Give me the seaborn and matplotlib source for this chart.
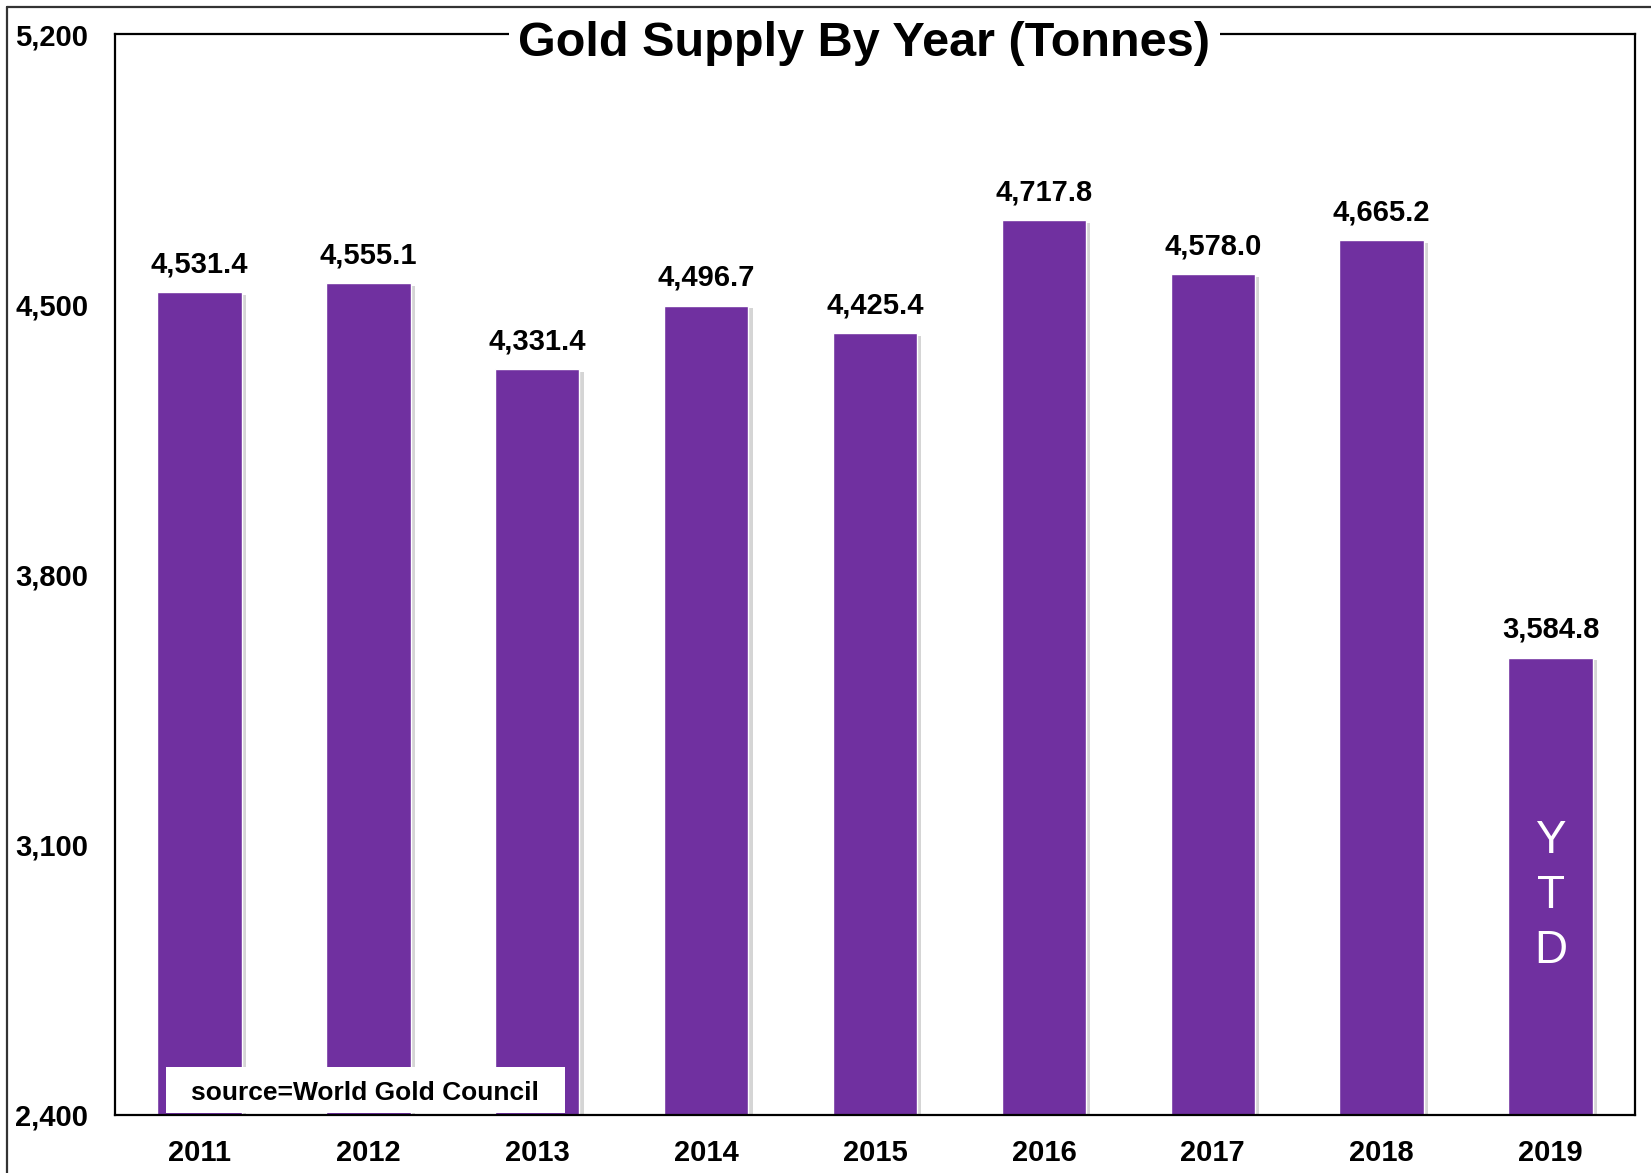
import matplotlib
matplotlib.use("Agg")
import matplotlib.pyplot as plt
import matplotlib.patheffects as pe
import matplotlib.transforms as mtransforms
from matplotlib.lines import Line2D
from matplotlib.patches import Rectangle
import seaborn as sns
import pandas as pd

# Gold supply by year (tonnes), source: World Gold Council
years = ['2011', '2012', '2013', '2014', '2015', '2016', '2017', '2018', '2019']
supply = [4531.4, 4555.1, 4331.4, 4496.7, 4425.4, 4717.8, 4578.0, 4665.2, 3584.8]
yticks = [2400, 3100, 3800, 4500, 5200]

df = pd.DataFrame({'Year': years, 'Supply': supply})

sns.set_style("white")
plt.rcParams['font.family'] = ['Liberation Sans', 'DejaVu Sans']
plt.rcParams['text.color'] = 'black'
plt.rcParams['xtick.color'] = 'black'
plt.rcParams['ytick.color'] = 'black'

purple = '#7030A0'

fig = plt.figure(figsize=(16.51, 11.73), dpi=100)
ax = fig.add_axes([115 / 1651, 58 / 1173, 1520 / 1651, 1081 / 1173])

sns.barplot(data=df, x='Year', y='Supply', color=purple, saturation=1,
            width=0.5, ax=ax)

# soft shadow on the bars
for bar in ax.patches:
    bar.set_path_effects([pe.SimplePatchShadow(offset=(3, -2), shadow_rgbFace='#888888', alpha=0.35),
                          pe.Normal()])

ax.set_ylim(2400, 5200)
ax.set_xlim(-0.5, 8.5)
ax.set_yticks(yticks)
ax.set_yticklabels([f'{v:,}' for v in yticks], fontsize=21, fontweight='bold')
for lab in ax.get_yticklabels():
    lab.set_horizontalalignment('left')
ax.tick_params(axis='y', length=0, pad=72)
ax.tick_params(axis='x', length=0, pad=17, labelsize=21)
for lab in ax.get_xticklabels():
    lab.set_fontweight('bold')
ax.set_xlabel('')
ax.set_ylabel('')

for s in ax.spines.values():
    s.set_visible(True)
    s.set_color('black')
    s.set_linewidth(1.6)

# value labels
ax.bar_label(ax.containers[0], labels=[f'{v:,.1f}' for v in supply],
             padding=10, fontsize=21, fontweight='bold', color='black')

# title sitting on the top frame line
title_tr = mtransforms.offset_copy(ax.transAxes, fig=fig, x=0, y=-9, units='dots')
ax.text(0.493, 1.0, 'Gold Supply By Year (Tonnes)', transform=title_tr,
        ha='center', va='center', fontsize=35, fontweight='bold',
        bbox=dict(facecolor='white', edgecolor='none', pad=7), zorder=5)

# source box
ax.add_patch(Rectangle((0.0333, 0.002), 0.2626, 0.0427, transform=ax.transAxes,
                       facecolor='white', edgecolor='none', zorder=4))
ax.text(0.1646, 0.0205, 'source=World Gold Council', transform=ax.transAxes,
        ha='center', va='center', fontsize=19, fontweight='bold', zorder=5)

# YTD marker inside the last bar
ax.text(8, 2967, 'Y\nT\nD', ha='center', va='center', color='white',
        fontsize=33, linespacing=1.32, zorder=5)

# outer frame (left and top only visible)
fx = 7 / 1651
fy = 1 - 7 / 1173
fig.add_artist(Line2D([fx, fx], [0, fy], transform=fig.transFigure, color='#333333', lw=1.6))
fig.add_artist(Line2D([fx, 1], [fy, fy], transform=fig.transFigure, color='#333333', lw=1.6))

fig.savefig('out.png', dpi=100)
